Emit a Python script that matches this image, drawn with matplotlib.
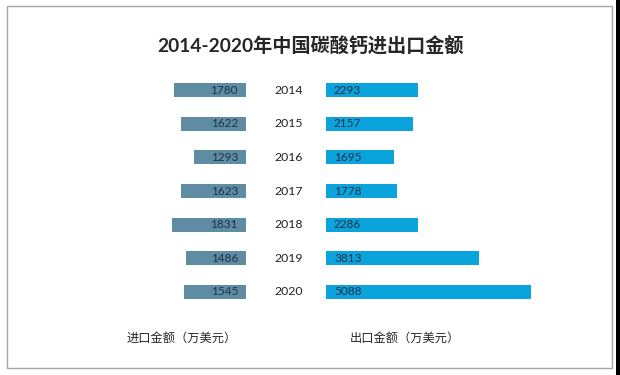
import matplotlib
matplotlib.use("Agg")
import matplotlib.pyplot as plt
from matplotlib.patches import Rectangle
from matplotlib.transforms import blended_transform_factory

plt.rcParams['font.family'] = ['Lato', 'Noto Sans CJK SC', 'DejaVu Sans']

years = ["2014", "2015", "2016", "2017", "2018", "2019", "2020"]
imports = [1780, 1622, 1293, 1623, 1831, 1486, 1545]
exports = [2293, 2157, 1695, 1778, 2286, 3813, 5088]
title = "2014-2020年中国碳酸钙进出口金额"
label_import = "进口金额（万美元）"
label_export = "出口金额（万美元）"

W, H = 620, 375
fig = plt.figure(figsize=(W / 100, H / 100), dpi=100)
fig.patch.set_facecolor("white")

px_per_unit = 0.0402
top_px, bot_px = 73.2, 308.8
y0 = 1 - bot_px / H
hh = (bot_px - top_px) / H

# left axes (imports), right edge at 246px
lx0, lx1 = 60, 246
axL = fig.add_axes([lx0 / W, y0, (lx1 - lx0) / W, hh])
axL.set_xlim((lx1 - lx0) / px_per_unit, 0)
# right axes (exports), left edge at 326px
rx0, rx1 = 326, 590
axR = fig.add_axes([rx0 / W, y0, (rx1 - rx0) / W, hh])
axR.set_xlim(0, (rx1 - rx0) / px_per_unit)

ypos = list(range(len(years)))
for ax in (axL, axR):
    ax.set_ylim(len(years) - 0.5, -0.5)
    ax.axis("off")

axL.barh(ypos, imports, height=0.41, color="#5E8CA2")
axR.barh(ypos, exports, height=0.41, color="#0AA3DB")

txt_color = "#1F3247"
for i in ypos:
    axL.text(8 / px_per_unit, i, str(imports[i]), ha="right", va="center",
             fontsize=8.5, color=txt_color)
    axR.text(8 / px_per_unit, i, str(exports[i]), ha="left", va="center",
             fontsize=8.5, color=txt_color)

tr = blended_transform_factory(fig.transFigure, axL.transData)
for i in ypos:
    axL.text(289 / W, i, years[i], transform=tr, ha="center", va="center",
             fontsize=8.8, color="#222222", clip_on=False)

fig.text(310 / W, 1 - 45 / H, title, ha="center", va="center",
         fontsize=13.8, fontweight="bold", color="#262626")
fig.text(182 / W, 1 - 338 / H, label_import, ha="center", va="center",
         fontsize=8.8, color="#262626")
fig.text(405 / W, 1 - 338 / H, label_export, ha="center", va="center",
         fontsize=8.8, color="#262626")

# border
fig.patches.append(Rectangle((6.5 / W, 1 - 367.5 / H), (612 - 6.5) / W, (367.5 - 6) / H,
                             transform=fig.transFigure, fill=False,
                             edgecolor="#A6A6A6", lw=1.0))
fig.patches.append(Rectangle((616 / W, 0), 4 / W, 1, transform=fig.transFigure,
                             facecolor="black", edgecolor="none"))

fig.savefig("out.png", dpi=100, facecolor="white")
